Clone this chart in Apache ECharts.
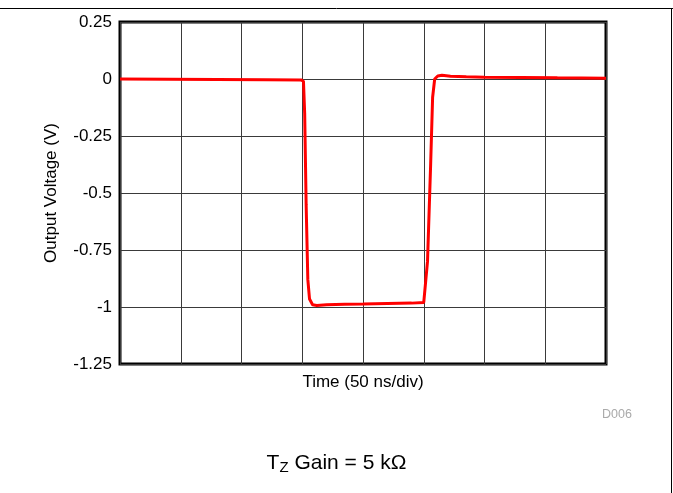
<!DOCTYPE html>
<html>
<head>
<meta charset="utf-8">
<script src="https://cdn.jsdelivr.net/npm/echarts@6/dist/echarts.min.js"></script>
<style>
  html, body { margin: 0; padding: 0; background: #fff; }
  #chart { width: 673px; height: 493px; }
</style>
</head>
<body>
<div id="chart"></div>
<script>
// time in ns (8 div x 50 ns), output in V
var timeNs = [0, 40, 80, 120, 149, 151, 152, 153.2, 154.6, 156, 158.5, 162, 170, 185, 200, 220, 240, 250, 251.5, 253.1, 255.7, 257.3, 259, 261.5, 265, 272, 285, 300, 330, 360, 400]
var voltage = [0, -0.001, -0.002, -0.003, -0.004, -0.01, -0.15, -0.55, -0.88, -0.965, -0.99, -0.993, -0.99, -0.988, -0.987, -0.985, -0.983, -0.98, -0.975, -0.8, -0.37, -0.08, 0, 0.013, 0.016, 0.012, 0.01, 0.008, 0.007, 0.005, 0.003]
var yTicks = [-1.25, -1, -0.75, -0.5, -0.25, 0, 0.25]

var points = []
for (let i = 0; i < timeNs.length; i++) {
    points.push([timeNs[i], voltage[i]])
}

let myChart = echarts.init(document.getElementById('chart'))
let font = 'Liberation Sans, Arial, sans-serif'
let option = {
    animation: false,
    grid: {
        left: 120,
        right: 67,
        top: 22,
        bottom: 129,
        show: true,
        borderColor: '#000',
        borderWidth: 3
    },
    xAxis: {
        type: 'value',
        min: 0,
        max: 400,
        interval: 50,
        name: 'Time (50 ns/div)',
        nameLocation: 'middle',
        nameGap: 10,
        nameTextStyle: { fontFamily: font, fontSize: 17, color: '#000' },
        axisLine: { show: false },
        axisTick: { show: false },
        axisLabel: { show: false },
        splitLine: { show: true, lineStyle: { color: '#3a3a3a', width: 1 } }
    },
    yAxis: {
        type: 'value',
        min: yTicks[0],
        max: yTicks[yTicks.length - 1],
        interval: 0.25,
        name: 'Output Voltage (V)',
        nameLocation: 'middle',
        nameGap: 60,
        nameTextStyle: { fontFamily: font, fontSize: 17, color: '#000' },
        axisLine: { show: false },
        axisTick: { show: false },
        axisLabel: {
            margin: 8,
            fontFamily: font,
            fontSize: 17,
            color: '#000',
            formatter: function (v) { return String(+v.toFixed(2)) }
        },
        splitLine: { show: true, lineStyle: { color: '#3a3a3a', width: 1 } }
    },
    series: [{
        type: 'line',
        data: points,
        showSymbol: false,
        smooth: false,
        lineStyle: { color: '#ff0000', width: 3 },
        z: 5
    }],
    graphic: [
        { type: 'line', shape: { x1: 0, y1: 8.5, x2: 673, y2: 8.5 }, style: { stroke: '#000', lineWidth: 1 } },
        { type: 'line', shape: { x1: 671.5, y1: 8, x2: 671.5, y2: 493 }, style: { stroke: '#000', lineWidth: 1 } },
        { type: 'text', left: 602, top: 408, style: { text: 'D006', fontFamily: font, fontSize: 12.5, fill: '#aaa' } },
        {
            type: 'text', left: 'center', top: 453,
            style: {
                text: 'T{sub|Z} Gain = 5 kΩ',
                fontFamily: font, fontSize: 21, fill: '#000',
                rich: { sub: { fontFamily: font, fontSize: 15, fill: '#000', padding: [9, 0, 0, 0] } }
            }
        }
    ]
}
myChart.setOption(option)
</script>
</body>
</html>
